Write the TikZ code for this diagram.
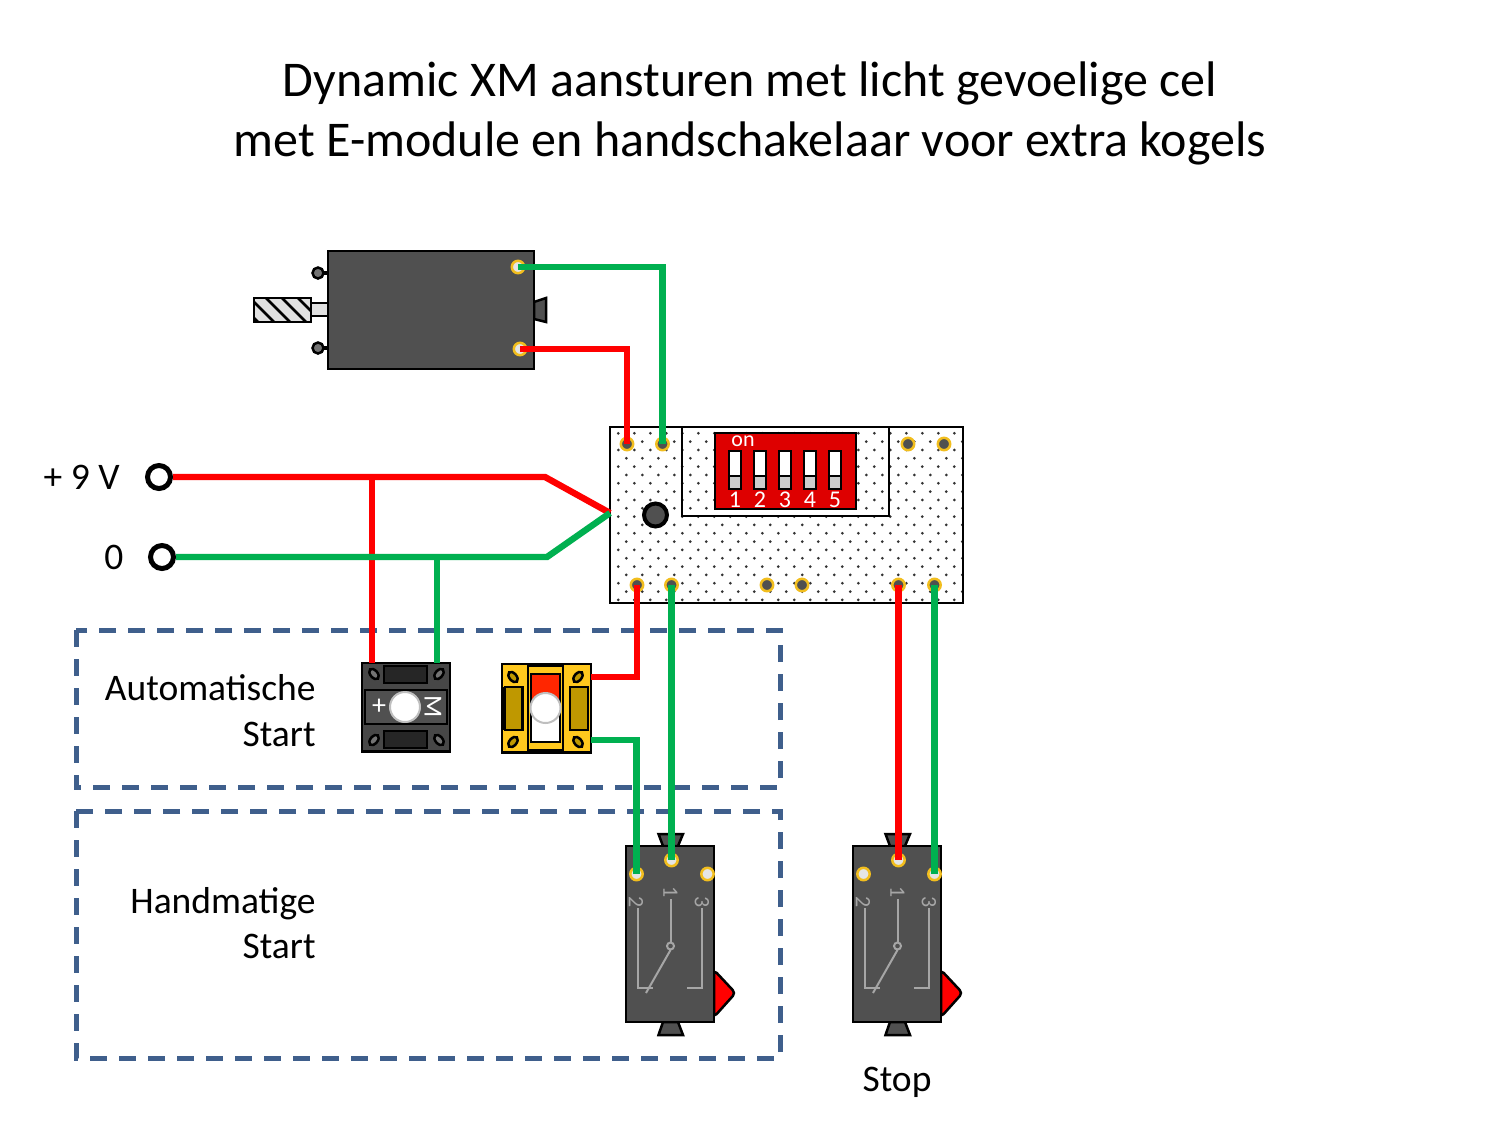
\documentclass[tikz,border=0pt]{standalone}
\usepackage{fontspec}
\setmainfont{Carlito}
\usetikzlibrary{shapes.geometric}
\definecolor{wred}{HTML}{FF0000}
\definecolor{wgreen}{HTML}{00B050}
\definecolor{body}{HTML}{505050}
\definecolor{ring}{HTML}{F2BE1E}
\definecolor{boxblue}{HTML}{3F5F8C}
\definecolor{dipred}{HTML}{DE0000}
\definecolor{ochre}{HTML}{BF9800}
\definecolor{gold}{HTML}{FFC81E}
\definecolor{sym}{HTML}{A6A6A6}
\tikzset{
  redwire/.style={wred,line width=3.2pt},
  greenwire/.style={wgreen,line width=3.2pt},
  padlight/.style={circle,draw=ring,fill=black!10,line width=1.25pt,minimum size=6.2pt,inner sep=0pt},
  paddark/.style={circle,draw=ring,fill=body,line width=1.25pt,minimum size=6.2pt,inner sep=0pt},
  terminal/.style={circle,draw=black,fill=white,line width=2.5pt,minimum size=11.5pt,inner sep=0pt},
  txt/.style={font=\fontsize{18.75}{22}\selectfont,inner sep=0pt},
  smalltxt/.style={font=\fontsize{12}{14}\selectfont,inner sep=0pt},
  pintxt/.style={font=\fontsize{11}{13}\selectfont,inner sep=0pt,rotate=-90,text=sym},
  groupbox/.style={boxblue,line width=2.5pt,dash pattern=on 8.5pt off 6pt},
  part/.style={draw=black,line width=1.25pt},
  oval/.style={part,ellipse,minimum width=6pt,minimum height=3.6pt,inner sep=0pt},
  lens/.style={circle,draw=black!25,fill=white,line width=1pt,minimum size=15pt,inner sep=0pt},
  switchbody/.pic={
    \draw[part,fill=body] (32.5,-12) -- (57,-12) -- (52,0) -- (37,0) -- cycle;
    \draw[part,fill=body] (37,176) -- (52,176) -- (57,189) -- (32.5,189) -- cycle;
    \draw[part,fill=wred,rounded corners=2pt] (88,124) -- (109.5,147) -- (88,171) -- cycle;
    \draw[part,fill=body] (0,0) rectangle (88,176);
    \draw[sym,line width=1pt] (12,62) -- (12,142) -- (27,142);
    \draw[sym,line width=1pt] (44.5,53) -- (44.5,96.5);
    \draw[sym,line width=1pt] (44.5,100) circle (3.5);
    \draw[sym,line width=1pt] (44.5,104) -- (20,147);
    \draw[sym,line width=1pt] (76,62) -- (76,142) -- (60.5,142);
    \node[pintxt] (-t2) at (10,56) {2};
    \node[pintxt] (-t1) at (44.5,46) {1};
    \node[pintxt] (-t3) at (76,56) {3};
    \node[padlight] (-p2) at (10.5,28) {};
    \node[padlight] (-p1) at (45.5,14) {};
    \node[padlight] (-p3) at (81.5,28) {};
  }
}
\begin{document}
\begin{tikzpicture}[x=0.5pt,y=-0.5pt]
\useasboundingbox (0,0) rectangle (1500,1125);

\node[font=\fontsize{25}{30}\selectfont,align=center,inner sep=0pt] (title) at (750,113)
  {Dynamic XM aansturen met licht gevoelige cel\\met E-module en handschakelaar voor extra kogels};

% group frames
\draw[groupbox] (76,630) rectangle (780,787);
\draw[groupbox] (76,811) rectangle (780,1058);
\node[txt,anchor=base east] (autoa) at (316,700) {Automatische};
\node[txt,anchor=base east] (autob) at (316,746) {Start};
\node[txt,anchor=base east] (handa) at (316,913) {Handmatige};
\node[txt,anchor=base east] (handb) at (316,958) {Start};
\node[txt,anchor=base] (stop) at (897,1091) {Stop};
\node[txt,anchor=base east] (plus) at (120,489) {+ 9 V};
\node[txt,anchor=base] (zero) at (114,569) {0};

% motor
\draw[black,line width=2pt] (318,273) -- (327,273);
\draw[black,line width=2pt] (318,348) -- (327,348);
\draw[part,fill=black!55] (318,273) circle (5.5);
\draw[part,fill=black!55] (318,348) circle (5.5);
\draw[part,fill=black!12] (311,303) rectangle (328,316);
\draw[part,fill=black!12] (254,298) rectangle (311,322);
\begin{scope}
\clip (254,298) rectangle (311,322);
\foreach \hx in {234,250,...,314} {
  \draw[black,line width=1.4pt] (\hx,298) -- (\hx+24,322);
}
\end{scope}
\draw[part] (254,298) rectangle (311,322);
\draw[part,fill=body] (534,302) -- (546,298) -- (546,322) -- (534,319) -- cycle;
\draw[part,fill=body] (328,251) rectangle (534,369);
\node[padlight] (ma) at (518,267) {};
\node[padlight] (mb) at (520,349) {};

% print board
\draw[part,fill=white] (610,427) rectangle (963,603);
\foreach \r [evaluate=\r as \dy using {433.3+8.33*\r}, evaluate=\r as \sx using {618.3+8*mod(\r,2)}] in {0,...,20} {
  \foreach \k in {0,...,21} {
    \fill[black!80] (\sx+16*\k,\dy) circle (1.5);
  }
}
\draw[part] (682,427) -- (682,516) -- (889,516) -- (889,427);
\draw[part] (610,427) rectangle (963,603);
\draw[black,line width=2pt,fill=body] (655.5,515) circle (11.5);
\draw[part,fill=dipred] (715,433) rectangle (856,509);
\foreach \sw/\nr in {735/1,760/2,785/3,810/4,835/5} {
  \draw[part,fill=white] (\sw-6,451) rectangle (\sw+6,489);
  \draw[part,fill=black!20] (\sw-6,476) rectangle (\sw+6,489);
  \node[text=white,smalltxt] (n\nr) at (\sw,500) {\nr};
}
\node[text=white,font=\fontsize{11}{13}\selectfont,inner sep=0pt] (on) at (743,441) {on};
\node[paddark] (ta) at (627,444) {};
\node[paddark] (tb) at (662.5,444) {};
\node[paddark] (tc) at (908,444) {};
\node[paddark] (td) at (944,444) {};
\node[paddark] (ba) at (637,585) {};
\node[paddark] (bb) at (671.5,585) {};
\node[paddark] (bc) at (767,585) {};
\node[paddark] (bd) at (802,585) {};
\node[paddark] (be) at (898.5,585) {};
\node[paddark] (bf) at (934.5,585) {};
\coordinate (tip) at (610,513);

% light cell
\draw[part,fill=black!72] (362,663) rectangle (450,751.5);
\draw[part,fill=black!85] (384,666) rectangle (427,683);
\draw[part,fill=black!85] (384,731) rectangle (427,748);
\draw[part,fill=body] (365,690) rectangle (447,724);
\foreach \ox/\oy/\oa [count=\i] in {374/674/-50,439/674/50,374/740/50,439/740/-50} {
  \node[oval,fill=black!55,rotate=\oa] (lo\i) at (\ox,\oy) {};
}
\node[lens] (lenslight) at (405,707) {};
\node[text=white,font=\fontsize{14}{16}\selectfont,inner sep=0pt] (lplus) at (379,707) {+};
\node[text=white,font=\fontsize{13}{15}\selectfont,inner sep=0pt,rotate=-90] (lm) at (433,707) {M};
\coordinate (la) at (372,663);
\coordinate (lb) at (437,663);

% push button
\draw[part,fill=gold] (502,664) rectangle (591,752.5);
\draw[part,fill=ochre] (505,687) rectangle (522.5,730);
\draw[black,line width=2pt] (503,687) -- (503,730);
\draw[part,fill=ochre] (570,687) rectangle (588,730);
\draw[part] (528,666) rectangle (563,750);
\draw[part,fill=white] (531,674) rectangle (560,742);
\fill[orange!30!red] (532,675) rectangle (559,704);
\foreach \ox/\oy/\oa [count=\i] in {513/677/-50,578/677/50,513/742/50,578/742/-50} {
  \node[oval,fill=ochre,rotate=\oa] (po\i) at (\ox,\oy) {};
}
\node[lens] (lenspush) at (545.5,708) {};
\coordinate (pa) at (591,677);
\coordinate (pb) at (591,740);

% switches
\pic (sa) at (626,846) {switchbody};
\pic (sb) at (853,846) {switchbody};

% terminals
\node[terminal] (pos) at (159,477) {};
\node[terminal] (neg) at (162,557) {};

% wires
\draw[greenwire] (ma.center) -| (tb.center);
\draw[redwire] (mb.center) -| (ta.center);
\draw[redwire] (372,477) -- (la);
\draw[greenwire] (437,557) -- (lb);
\draw[redwire] (pos.east) -- (545,477) -- (tip);
\draw[greenwire] (neg.east) -- (547,557) -- (tip);
\draw[redwire] (ba.center) |- (pa);
\draw[greenwire] (sa-p2.center) |- (pb);
\draw[greenwire] (bb.center) -- (sa-p1.center);
\draw[redwire] (be.center) -- (sb-p1.center);
\draw[greenwire] (bf.center) -- (sb-p3.center);

\end{tikzpicture}
\end{document}
